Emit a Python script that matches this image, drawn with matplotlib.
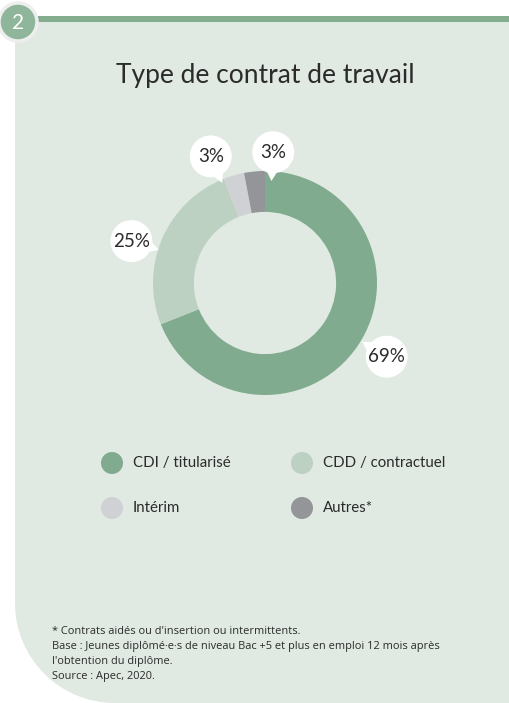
import matplotlib.pyplot as plt
import numpy as np
from matplotlib.patches import Circle, Polygon, PathPatch
from matplotlib.path import Path

# Données
categories = ["CDI / titularisé", "CDD / contractuel", "Intérim", "Autres*"]
valeurs = [69, 25, 3, 3]
etiquettes = ["69%", "25%", "3%", "3%"]
couleurs = ["#80ab8e", "#bcd1c2", "#d0d1d4", "#939598"]

titre = "Type de contrat de travail"
notes = [
    "* Contrats aidés ou d'insertion ou intermittents.",
    "Base : Jeunes diplômé·e·s de niveau Bac +5 et plus en emploi 12 mois après",
    "l'obtention du diplôme.",
    "Source : Apec, 2020.",
]

W, H = 510, 703
fond = "#e0e9e2"
vert = "#83ad8e"
texte = "#2b2b2b"

fig = plt.figure(figsize=(W / 100, H / 100), dpi=100)
fig.patch.set_facecolor("white")

# axe en pixels pour le décor
bg = fig.add_axes([0, 0, 1, 1])
bg.set_xlim(0, W)
bg.set_ylim(H, 0)
bg.axis("off")

# panneau avec coin arrondi en bas à gauche
r = 100
k = 0.5523 * r
verts = [(15, 22), (W, 22), (W, H), (15 + r, H),
         (15 + r - k, H), (15, H - r + k), (15, H - r),
         (15, 22)]
codes = [Path.MOVETO, Path.LINETO, Path.LINETO, Path.LINETO,
         Path.CURVE4, Path.CURVE4, Path.CURVE4, Path.CLOSEPOLY]
bg.add_patch(PathPatch(Path(verts, codes), facecolor=fond, edgecolor="none"))

# barre verte en haut
bg.add_patch(plt.Rectangle((30, 16), W - 30, 6, facecolor=vert, edgecolor="none"))

# pastille numéro
bg.add_patch(Circle((18, 22), 19, facecolor="#8fb59a", edgecolor="#eeeeee", linewidth=2.5))
bg.text(18, 23, "2", color="white", fontsize=15, ha="center", va="center", family="Lato")

bg.text(265, 76, titre, fontsize=19, color=texte, ha="center", va="center", family="Lato")

# légende
leg_x = [112, 302]
leg_y = [463, 508]
for i, (cat, col) in enumerate(zip(categories, couleurs)):
    cx = leg_x[i % 2]
    cy = leg_y[i // 2]
    bg.add_patch(Circle((cx, cy), 11, facecolor=col, edgecolor="none"))
    bg.text(cx + 21, cy, cat, fontsize=10.8, color=texte, ha="left", va="center", family="Lato")

# notes
for i, ligne in enumerate(notes):
    bg.text(52, 631 + i * 15.3, ligne, fontsize=7.9, color=texte, ha="left", va="center",
            family="Open Sans")

# anneau
R = 112
cx, cy = 265, 283
lim = 1.6
size = 2 * lim * R
ax = fig.add_axes([(cx - size / 2) / W, (H - cy - size / 2) / H, size / W, size / H])
ax.patch.set_alpha(0)
wedges, _ = ax.pie(valeurs, colors=couleurs, startangle=90, counterclock=False,
                   wedgeprops=dict(width=0.365, edgecolor="none"))
ax.set_xlim(-lim, lim)
ax.set_ylim(-lim, lim)

# bulles
decalage = [3, 6, 7, -9]
dist = [1.27, 1.25, 1.23, 1.17]
rb = 21 / R
for w, lab, d, dr in zip(wedges, etiquettes, decalage, dist):
    a = np.deg2rad((w.theta1 + w.theta2) / 2 + d)
    bx, by = dr * np.cos(a), dr * np.sin(a)
    ax.add_patch(Circle((bx, by), rb, facecolor="white", edgecolor="none", zorder=3))
    # petite pointe vers l'anneau
    dx, dy = -np.cos(a), -np.sin(a)
    px, py = -dy, dx
    tip = (bx + dx * (rb + 0.07), by + dy * (rb + 0.07))
    b1 = (bx + dx * rb * 0.6 + px * 0.08, by + dy * rb * 0.6 + py * 0.08)
    b2 = (bx + dx * rb * 0.6 - px * 0.08, by + dy * rb * 0.6 - py * 0.08)
    ax.add_patch(Polygon([tip, b1, b2], facecolor="white", edgecolor="none", zorder=3))
    ax.text(bx, by, lab, fontsize=13.5, color=texte, ha="center", va="center",
            family="Lato", zorder=4)

fig.savefig("out.png", dpi=100)
